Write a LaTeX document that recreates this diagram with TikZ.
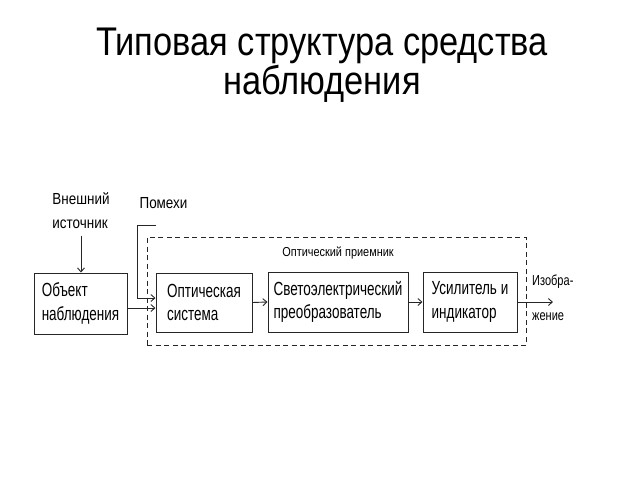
\documentclass[tikz,border=0pt]{standalone}
\usepackage{fontspec}
\setmainfont{Liberation Sans}
\newfontfamily\titlefont[FakeStretch=0.86]{Liberation Sans}
\newfontfamily\narfont[FakeStretch=0.84]{Liberation Sans}
\newfontfamily\boxfont[FakeStretch=0.71]{Liberation Sans}
\newfontfamily\outfont[FakeStretch=0.76]{Liberation Sans}
\usetikzlibrary{arrows.meta}
\begin{document}
\begin{tikzpicture}[x=1pt,y=-1pt,
  titletext/.style={inner sep=0pt, anchor=base, font=\titlefont\fontsize{40}{40}\selectfont},
  blk/.style={draw=black!85, line width=1pt, inner sep=0pt, align=left,
    font=\boxfont\fontsize{19}{23.5}\selectfont},
  lbl/.style={inner sep=0pt, align=left, font=\narfont\fontsize{16}{24}\selectfont},
  small/.style={inner sep=0pt, font=\narfont\fontsize{13}{14}\selectfont},
  outlbl/.style={inner sep=0pt, anchor=base west, font=\outfont\fontsize{14.5}{16}\selectfont},
  arr/.style={draw=black!85, line width=0.9pt, -{Straight Barb[length=4pt,width=7pt]}},
  recvbox/.style={draw=black!85, line width=0.9pt, dash pattern=on 5pt off 3.5pt, inner sep=0pt}
]
\useasboundingbox[fill=white] (0,0) rectangle (640,480);

% title
\node[titletext] (t1) at (322,55) {Типовая структура средства};
\node[titletext] (t2) at (322,94) {наблюдения};

% dashed receiver box
\node[recvbox, minimum width=379pt, minimum height=108pt] (recv) at (336.5,291) {};
\node[small] (recvlbl) at (338,253) {Оптический приемник};

% blocks
\node[blk, minimum width=93pt, minimum height=61pt] (box1) at (80.5,303.5) {Объект\\наблюдения};
\node[blk, minimum width=96pt, minimum height=59pt] (box2) at (204,302.5) {Оптическая\\система};
\node[blk, minimum width=140pt, minimum height=60pt] (box3) at (338,302) {Светоэлектрический\\преобразователь};
\node[blk, minimum width=94pt, minimum height=60pt] (box4) at (470,302) {Усилитель и\\индикатор};

% labels
\node[lbl] (ext) at (81,210.4) {Внешний\\источник};
\node[lbl] (noise) at (163.5,203) {Помехи};
\node[outlbl] (img1) at (532,285) {Изобра-};
\node[outlbl] (img2) at (532,320) {жение};

\coordinate (nz) at (156,225);
\coordinate (out) at (553,301);

% connectors
\draw[arr] ([yshift=-7pt]ext.south) -- (ext.south |- box1.north);
\draw[arr] (nz) -- ++(-19,0) |- ([yshift=4.5pt]box2.west);
\draw[arr] ([yshift=-4.5pt]box1.east) -- ([yshift=-4.5pt]box1.east -| box2.west);
\draw[arr] (box2.east) -- (box3.west);
\draw[arr] (box3.east) -- (box4.west);
\draw[arr] (box4.east) -- (box4.east -| out);
\end{tikzpicture}
\end{document}
